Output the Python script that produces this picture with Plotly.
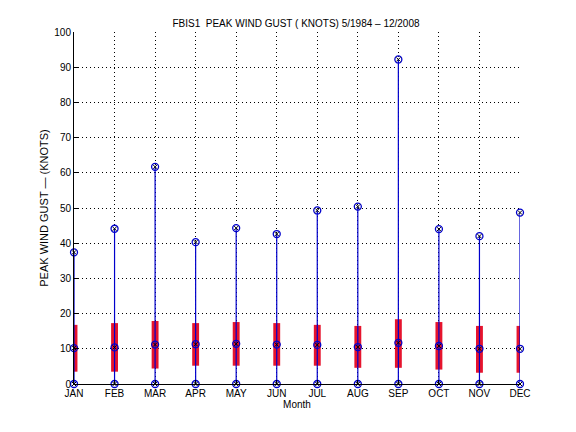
import plotly.graph_objects as go

months = ["JAN", "FEB", "MAR", "APR", "MAY", "JUN", "JUL", "AUG", "SEP", "OCT", "NOV", "DEC"]
month_num = list(range(1, 13))
gust_min = [0, 0, 0, 0, 0, 0, 0, 0, 0, 0, 0, 0]
gust_q25 = [3.5, 3.5, 4.4, 5.2, 5.2, 5.2, 5.2, 4.6, 4.6, 4.1, 3.2, 3.2]
gust_median = [10.2, 10.4, 11.2, 11.3, 11.4, 11.2, 11.1, 10.5, 11.7, 10.8, 10.0, 10.0]
gust_q75 = [16.8, 17.3, 17.9, 17.3, 17.6, 17.3, 16.8, 16.5, 18.4, 17.6, 16.5, 16.5]
gust_max = [37.4, 44.1, 61.7, 40.3, 44.3, 42.6, 49.3, 50.4, 92.2, 44.0, 42.0, 48.7]

blue = "#0000CC"
red = "#E6142D"

fig = go.Figure()

# interquartile boxes
fig.add_trace(go.Bar(x=month_num, y=[hi - lo for hi, lo in zip(gust_q75, gust_q25)],
                     base=gust_q25, width=0.17, marker=dict(color=red, line_width=0),
                     showlegend=False))

# min-to-max whiskers
wx, wy = [], []
for m, lo, hi in zip(month_num, gust_min, gust_max):
    wx += [m, m, None]
    wy += [lo, hi, None]
fig.add_trace(go.Scatter(x=wx, y=wy, mode="lines", line=dict(color=blue, width=1.2),
                         showlegend=False))

# markers at min, median, max
for vals in [gust_min, gust_median, gust_max]:
    fig.add_trace(go.Scatter(x=month_num, y=vals, mode="markers",
                             marker=dict(symbol="circle-open", size=7, color=blue,
                                         line=dict(width=1.3)),
                             showlegend=False, cliponaxis=False))
    fig.add_trace(go.Scatter(x=month_num, y=vals, mode="markers",
                             marker=dict(symbol="x-thin-open", size=4, color="black",
                                         line=dict(width=1, color="black")),
                             showlegend=False, cliponaxis=False))

fig.update_layout(
    width=576, height=432,
    margin=dict(l=66, r=64, t=24, b=56, autoexpand=False),
    paper_bgcolor="white", plot_bgcolor="white",
    font=dict(family="Liberation Sans, Arial", size=10, color="black"),
    title=dict(text="FBIS1  PEAK WIND GUST ( KNOTS) 5/1984 – 12/2008",
               x=0.5, xanchor="center", y=0.965, yanchor="middle",
               font=dict(size=10)),
    barmode="overlay",
)
fig.update_xaxes(range=[1, 12], tickvals=month_num, ticktext=months,
                 showgrid=True, gridcolor="black", griddash="1px,3px", gridwidth=1,
                 showline=True, linecolor="black", linewidth=1,
                 ticks="inside", ticklen=4, tickcolor="black",
                 tickfont=dict(size=10),
                 title=dict(text="Month", standoff=2, font=dict(size=10)), zeroline=False)
fig.update_yaxes(range=[0, 100], dtick=10,
                 showgrid=True, gridcolor="black", griddash="1px,3px", gridwidth=1,
                 showline=True, linecolor="black", linewidth=1,
                 ticks="inside", ticklen=4, tickcolor="black",
                 tickfont=dict(size=10),
                 title=dict(text="PEAK WIND GUST — (KNOTS)", standoff=3, font=dict(size=11)),
                 zeroline=False)

fig.write_html("out.html")
